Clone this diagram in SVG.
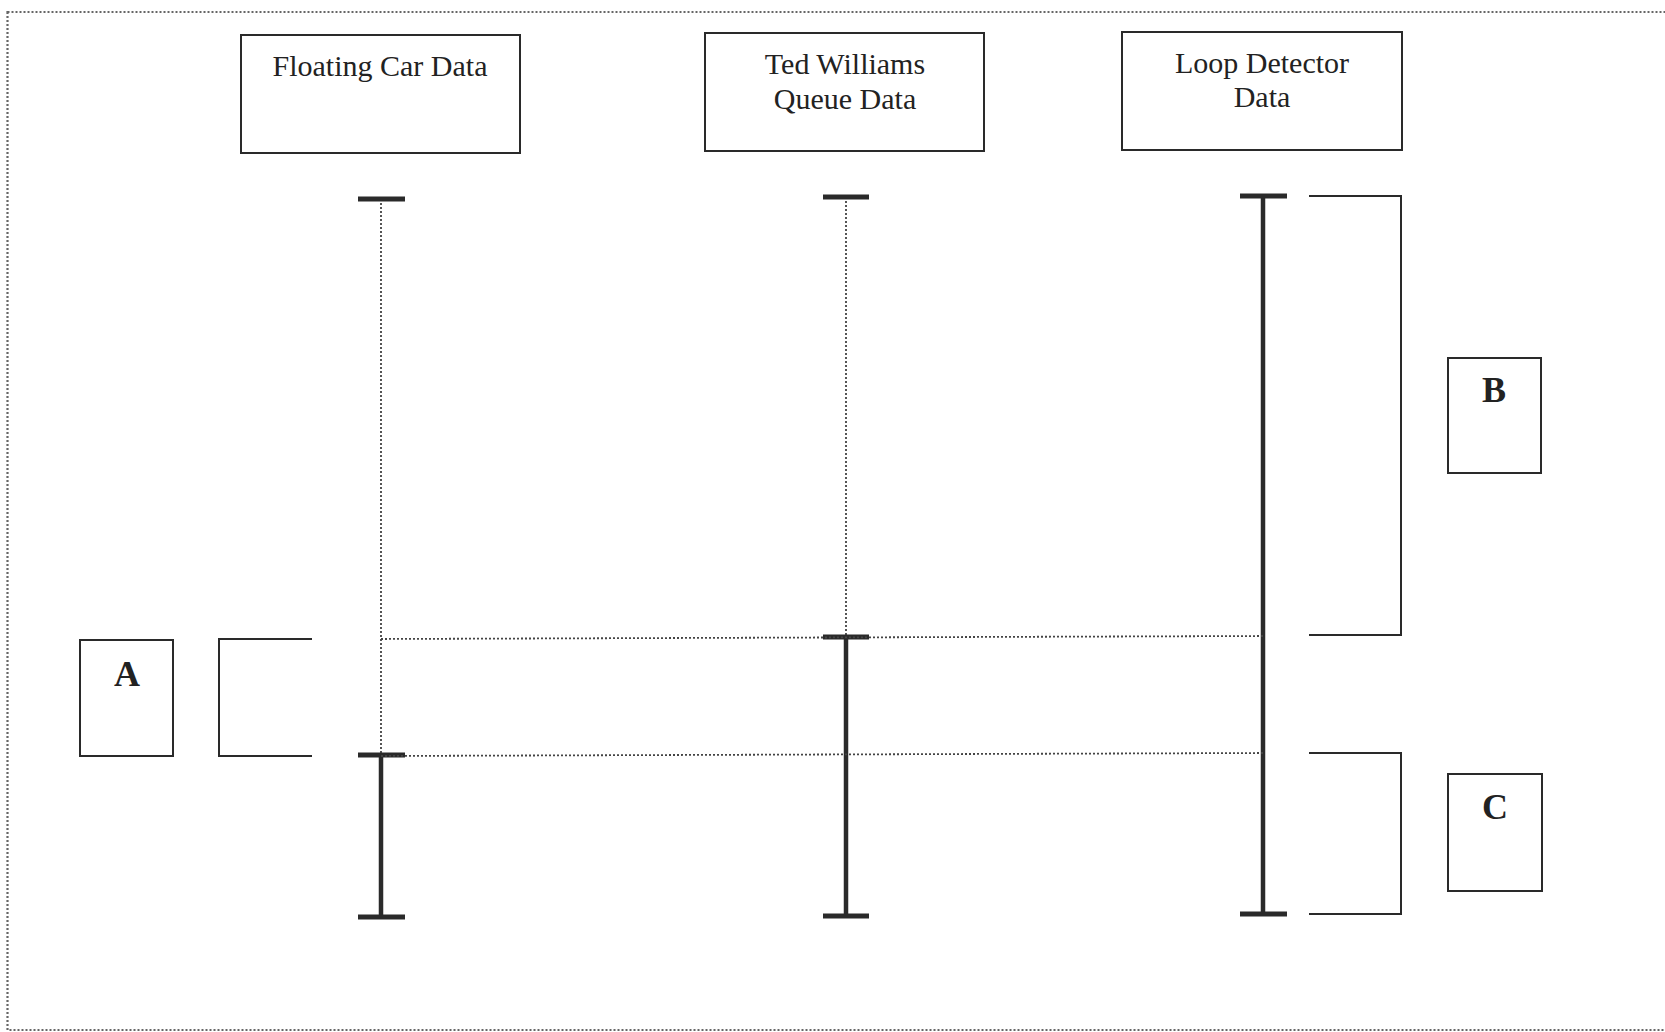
<svg xmlns="http://www.w3.org/2000/svg" width="1665" height="1032" viewBox="0 0 1665 1032">
<style>
.box{fill:#fff;stroke:#2a2a2a;stroke-width:2}
.lbl{font-family:"Liberation Serif","Times New Roman",serif;font-size:30px;fill:#222;text-anchor:middle}
.let{font-family:"Liberation Serif","Times New Roman",serif;font-size:36px;font-weight:bold;fill:#222;text-anchor:middle}
.dot{stroke:#444;stroke-width:1.8;stroke-dasharray:2 2;fill:none}
.solid{stroke:#2a2a2a;stroke-width:4.5;fill:none}
.bar{stroke:#2a2a2a;stroke-width:5;fill:none}
.brk{stroke:#2a2a2a;stroke-width:2;fill:none}
</style>
<rect x="0" y="0" width="1665" height="1032" fill="#fff"/>
<rect x="7.5" y="12" width="1665" height="1018" fill="none" stroke="#666" stroke-width="2.2" stroke-dasharray="2 2"/>

<g id="fcd">
<rect class="box" x="241" y="35" width="279" height="118"/>
<text class="lbl" x="380" y="76">Floating Car Data</text>
</g>
<g id="tw">
<rect class="box" x="705" y="33" width="279" height="118"/>
<text class="lbl" x="845" y="74">Ted Williams</text>
<text class="lbl" x="845" y="109">Queue Data</text>
</g>
<g id="ld">
<rect class="box" x="1122" y="32" width="280" height="118"/>
<text class="lbl" x="1262" y="73">Loop Detector</text>
<text class="lbl" x="1262" y="107">Data</text>
</g>
<g id="boxA">
<rect class="box" x="80" y="640" width="93" height="116"/>
<text class="let" x="127" y="686">A</text>
</g>
<g id="boxB">
<rect class="box" x="1448" y="358" width="93" height="115"/>
<text class="let" x="1494" y="402">B</text>
</g>
<g id="boxC">
<rect class="box" x="1448" y="774" width="94" height="117"/>
<text class="let" x="1495" y="819">C</text>
</g>

<g id="connectors">
<line class="dot" x1="381" y1="199" x2="381" y2="755"/>
<line class="solid" x1="381" y1="755" x2="381" y2="917"/>
<line class="bar" x1="358" y1="199" x2="405" y2="199"/>
<line class="bar" x1="358" y1="755" x2="405" y2="755"/>
<line class="bar" x1="358" y1="917" x2="405" y2="917"/>
<line class="dot" x1="846" y1="197" x2="846" y2="637"/>
<line class="solid" x1="846" y1="637" x2="846" y2="916"/>
<line class="bar" x1="823" y1="197" x2="869" y2="197"/>
<line class="bar" x1="823" y1="637" x2="869" y2="637"/>
<line class="bar" x1="823" y1="916" x2="869" y2="916"/>
<line class="solid" x1="1263" y1="196" x2="1263" y2="914"/>
<line class="bar" x1="1240" y1="196" x2="1287" y2="196"/>
<line class="bar" x1="1240" y1="914" x2="1287" y2="914"/>
<line class="dot" x1="381" y1="639" x2="1263" y2="636"/>
<line class="dot" x1="381" y1="756" x2="1263" y2="753"/>
<polyline class="brk" points="312,639 219,639 219,756 312,756"/>
<polyline class="brk" points="1309,196 1401,196 1401,635 1309,635"/>
<polyline class="brk" points="1309,753 1401,753 1401,914 1309,914"/>
</g>
</svg>
